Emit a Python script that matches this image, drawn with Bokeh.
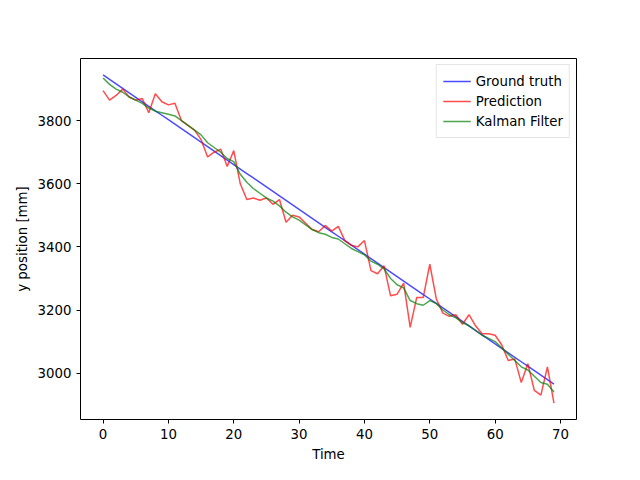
from bokeh.plotting import figure
from bokeh.models import Range1d, Legend, LegendItem
from bokeh.embed import file_html
from bokeh.resources import INLINE

t = list(range(70))
truth = [3945 + (2965 - 3945) * i / 69 for i in t]
prediction = [3895, 3865, 3880, 3900, 3875, 3865, 3870, 3825, 3885, 3860,
              3850, 3855, 3800, 3785, 3770, 3740, 3685, 3700, 3710, 3655,
              3705, 3600, 3550, 3555, 3548, 3555, 3535, 3550, 3478, 3500,
              3495, 3475, 3455, 3448, 3468, 3450, 3465, 3420, 3405, 3400,
              3420, 3325, 3315, 3340, 3245, 3250, 3285, 3145, 3240, 3240,
              3345, 3235, 3190, 3180, 3185, 3155, 3185, 3150, 3125, 3125,
              3120, 3090, 3040, 3045, 2970, 3030, 2945, 2930, 3020, 2905]
kalman = [3935, 3915, 3900, 3890, 3875, 3865, 3855, 3840, 3830, 3825,
          3820, 3815, 3800, 3785, 3770, 3755, 3730, 3715, 3700, 3680,
          3670, 3630, 3605, 3585, 3570, 3555, 3545, 3530, 3510, 3495,
          3485, 3470, 3455, 3445, 3440, 3430, 3425, 3410, 3395, 3385,
          3375, 3355, 3345, 3330, 3300, 3280, 3270, 3230, 3220, 3215,
          3230, 3220, 3200, 3185, 3175, 3160, 3150, 3135, 3120, 3110,
          3100, 3080, 3060, 3040, 3020, 3010, 2990, 2970, 2965, 2940]

p = figure(width=624, height=464, output_backend="svg", toolbar_location=None,
           x_range=Range1d(-3.45, 72.45), y_range=Range1d(2853, 3997),
           min_border_left=80, min_border_right=48, min_border_top=58, min_border_bottom=37)
p.grid.visible = False
p.outline_line_color = "black"
p.xaxis.axis_label = "Time"
p.yaxis.axis_label = "y position [mm]"
p.xaxis.ticker = [0, 10, 20, 30, 40, 50, 60, 70]
p.yaxis.ticker = [3000, 3200, 3400, 3600, 3800]
for ax in (p.xaxis[0], p.yaxis[0]):
    ax.minor_tick_line_color = None
    ax.major_tick_in = 0
    ax.major_tick_out = 4
    ax.major_tick_line_color = "black"
    ax.major_label_text_color = "black"
    ax.axis_label_text_color = "black"
    ax.major_label_text_font = "DejaVu Sans"
    ax.major_label_text_font_size = "10pt"
    ax.axis_label_text_font = "DejaVu Sans"
    ax.axis_label_text_font_size = "10pt"
    ax.axis_label_text_font_style = "normal"
    ax.axis_line_color = None

r1 = p.line(t, truth, color="blue", alpha=0.7, line_width=1.5)
r2 = p.line(t, prediction, color="red", alpha=0.7, line_width=1.5)
r3 = p.line(t, kalman, color="green", alpha=0.7, line_width=1.5)

legend = Legend(items=[LegendItem(label="Ground truth", renderers=[r1]),
                       LegendItem(label="Prediction", renderers=[r2]),
                       LegendItem(label="Kalman Filter", renderers=[r3])],
                location="top_right", label_text_font="DejaVu Sans",
                label_text_font_size="10pt", label_text_color="black",
                border_line_color="#cccccc",
                spacing=0, padding=6, glyph_width=28, label_height=14,
                margin=6)
p.add_layout(legend)

open("out.html", "w").write(file_html(p, INLINE))
